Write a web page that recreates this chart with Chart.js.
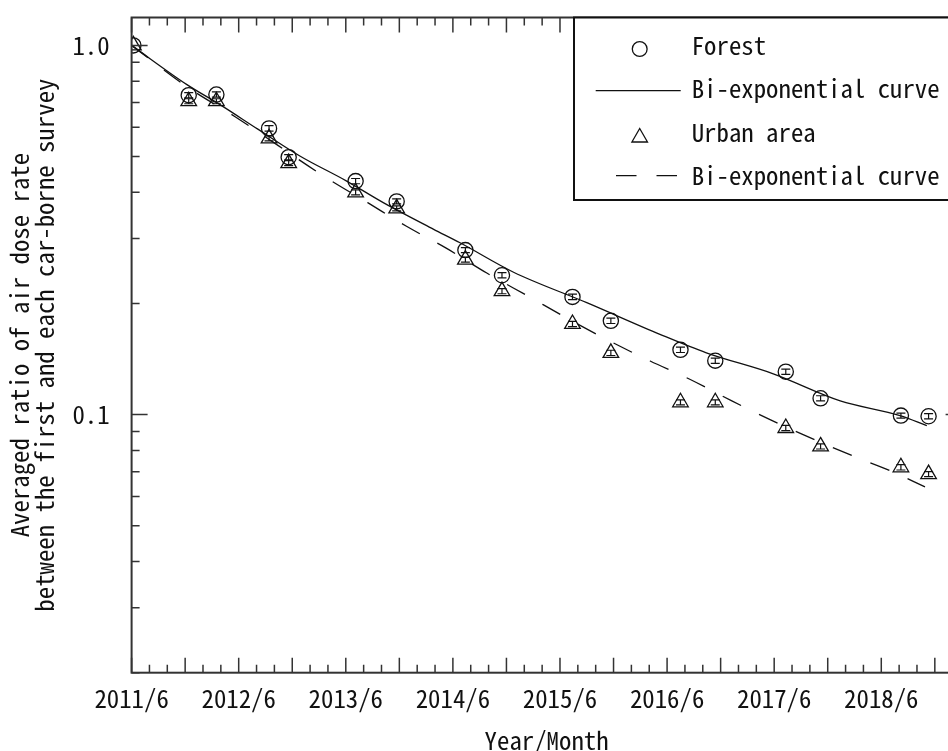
<!DOCTYPE html>
<html>
<head>
<meta charset="utf-8">
<script src="https://cdn.jsdelivr.net/npm/chart.js@4/dist/chart.umd.min.js"></script>
<style>
  html, body { margin: 0; padding: 0; background: #fff; overflow: hidden; width: 948px; height: 751px; }
  #wrap { position: absolute; left: 0; top: 0; width: 1000px; height: 751px; }
</style>
</head>
<body>
<div id="wrap"><canvas id="c" width="1000" height="751"></canvas></div>
<script>
// Survey timing, in months after 2011/6
const surveyMonths = [0.2, 6.4, 9.5, 15.4, 17.6, 25.1, 29.7, 37.4, 41.5, 49.4, 53.7, 61.5, 65.4, 73.3, 77.2, 86.2, 89.3];

// Averaged ratio to the first survey, with its error
const forestRatio = [1.0, 0.733, 0.736, 0.596, 0.498, 0.429, 0.378, 0.279, 0.2385, 0.2084, 0.1795, 0.1498, 0.140, 0.1307, 0.1107, 0.0994, 0.099];
const forestErr   = [0, 0.012, 0.012, 0.010, 0.008, 0.007, 0.006, 0.0045, 0.004, 0.0035, 0.003, 0.0025, 0.0023, 0.0021, 0.0018, 0.0016, 0.0016];
const urbanRatio  = [1.0, 0.706, 0.706, 0.560, 0.480, 0.400, 0.362, 0.263, 0.216, 0.176, 0.147, 0.108, 0.108, 0.092, 0.082, 0.072, 0.069];
const urbanErr    = [0, 0.011, 0.011, 0.009, 0.0077, 0.0064, 0.0058, 0.0042, 0.0035, 0.0028, 0.0024, 0.0017, 0.0017, 0.0015, 0.0013, 0.0012, 0.0011];

// Fitted bi-exponential curves
const forestFitMonths = [0, 6.2, 9.9, 14.1, 18.9, 24.1, 28.2, 33.8, 36.8, 42.8, 51.0, 59.2, 64.4, 71.9, 79.4, 86.1, 89.1];
const forestFitRatio  = [1.0, 0.783, 0.691, 0.594, 0.501, 0.429, 0.375, 0.318, 0.292, 0.243, 0.201, 0.165, 0.147, 0.129, 0.109, 0.0994, 0.0934];
const urbanFitMonths  = [0, 6.5, 11.6, 21.7, 26.5, 30.8, 35.3, 39.8, 44.4, 48.8, 53.4, 58.1, 62.6, 67.2, 71.6, 76.2, 80.7, 85.3, 88.9];
const urbanFitRatio   = [1.0, 0.764, 0.641, 0.440, 0.3745, 0.3236, 0.2819, 0.2418, 0.2095, 0.1824, 0.159, 0.1397, 0.1245, 0.1091, 0.0968, 0.0862, 0.0775, 0.0700, 0.0637];

// Axis ticks and texts
const xTickMonths = [0, 12, 24, 36, 48, 60, 72, 84];
const xTickLabels = ['2011/6', '2012/6', '2013/6', '2014/6', '2015/6', '2016/6', '2017/6', '2018/6'];
const yTickValues = [0.1, 1.0];
const yTickLabels = ['0.1', '1.0'];
const seriesLabels = ['Forest', 'Bi-exponential curve', 'Urban area', 'Bi-exponential curve'];
const xTitle = 'Year/Month';
const yTitle = ['Averaged ratio of air dose rate', 'between the first and each car-borne survey'];

// Half-width monospaced face; size chosen so one character advances ~12.4px
const FAMILY = '"Noto Sans Mono CJK JP", "DejaVu Sans Mono", monospace';
const probe = document.createElement('canvas').getContext('2d');
probe.font = '100px ' + FAMILY;
const FS = 12.4 / (probe.measureText('0000000000').width / 1000);
const INK = '#111';
const AXIS = '#333';

const pts = (xs, ys) => xs.map((x, i) => ({ x: x, y: ys[i] }));

// keep the plot box fixed: no extra room reserved for edge labels
function fixBox(s, size) {
  if (s.isHorizontal()) s.height = size; else s.width = size;
  s.paddingTop = 0; s.paddingBottom = 0; s.paddingLeft = 0; s.paddingRight = 0;
}

const framePlugin = {
  id: 'frame',
  afterDatasetsDraw(chart) {
    const ctx = chart.ctx, xs = chart.scales.x, ys = chart.scales.y;
    ctx.save();
    ctx.strokeStyle = INK;
    ctx.lineWidth = 1.2;
    chart.data.datasets.forEach(ds => {
      if (!ds.err) return;
      ds.data.forEach((p, i) => {
        const e = ds.err[i];
        if (!e) return;
        const px = xs.getPixelForValue(p.x);
        const y1 = ys.getPixelForValue(p.y + e);
        const y2 = ys.getPixelForValue(p.y - e);
        ctx.beginPath();
        ctx.moveTo(px, y1); ctx.lineTo(px, y2);
        ctx.moveTo(px - 4.5, y1); ctx.lineTo(px + 4.5, y1);
        ctx.moveTo(px - 4.5, y2); ctx.lineTo(px + 4.5, y2);
        ctx.stroke();
      });
    });
    ctx.restore();
  },
  afterDraw(chart) {
    const ctx = chart.ctx, xs = chart.scales.x, ys = chart.scales.y;
    const a = chart.chartArea;
    ctx.save();
    ctx.strokeStyle = AXIS;

    // inward tick marks on all four sides
    ctx.lineWidth = 1.5;
    ctx.beginPath();
    for (let m = 0; m <= xs.max; m += 2) {
      const px = xs.getPixelForValue(m);
      const len = (m % 6 === 0) ? 15 : 8;
      ctx.moveTo(px, a.bottom); ctx.lineTo(px, a.bottom - len);
      ctx.moveTo(px, a.top); ctx.lineTo(px, a.top + len);
    }
    [0.01, 0.1, 1].forEach(d => {
      for (let k = 1; k <= 9; k++) {
        const v = k * d;
        if (v < ys.min - 1e-9 || v > ys.max) continue;
        const py = ys.getPixelForValue(v);
        const len = (k === 1) ? 16 : 8;
        ctx.moveTo(a.left, py); ctx.lineTo(a.left + len, py);
        ctx.moveTo(a.right, py); ctx.lineTo(a.right - len, py);
      }
    });
    ctx.stroke();

    // plot frame
    ctx.lineWidth = 2;
    ctx.strokeRect(a.left, a.top, a.right - a.left, a.bottom - a.top);

    // legend box
    const bx = 574, by = a.top, bw = a.right - bx, bh = 200 - a.top;
    ctx.fillStyle = '#fff';
    ctx.fillRect(bx, by, bw, bh);
    ctx.strokeStyle = INK;
    ctx.lineWidth = 2;
    ctx.strokeRect(bx, by, bw, bh);

    const ds = chart.data.datasets;
    const textX = 691.7;
    const baselines = [55, 98.3, 141.7, 185];
    ctx.fillStyle = INK;
    ctx.font = FS + 'px ' + FAMILY;
    ctx.textAlign = 'left';
    ctx.textBaseline = 'alphabetic';
    ds.forEach((d, i) => ctx.fillText(d.label, textX, baselines[i]));

    ctx.strokeStyle = INK;
    ctx.fillStyle = 'rgba(0,0,0,0)';
    ctx.lineWidth = 1.3;
    Chart.helpers.drawPoint(ctx, { pointStyle: ds[0].pointStyle, radius: 7.4, borderWidth: 1.3 }, 639.7, 49);
    Chart.helpers.drawPoint(ctx, { pointStyle: ds[2].pointStyle, radius: 9, borderWidth: 1.3 }, 639.7, 137.5);

    ctx.lineWidth = 1.3;
    ctx.beginPath();
    ctx.moveTo(595.7, 90.7); ctx.lineTo(680.7, 90.7);
    ctx.stroke();
    ctx.setLineDash(ds[3].borderDash);
    ctx.beginPath();
    ctx.moveTo(616, 175.7); ctx.lineTo(677.3, 175.7);
    ctx.stroke();
    ctx.restore();
  }
};

const tickFont = { family: FAMILY, size: FS, lineHeight: 1.2 };

new Chart(document.getElementById('c'), {
  type: 'scatter',
  data: {
    datasets: [
      {
        label: seriesLabels[0], data: pts(surveyMonths, forestRatio), err: forestErr,
        pointStyle: 'circle', pointRadius: 7.6, pointBorderWidth: 1.3,
        borderColor: INK, backgroundColor: 'rgba(0,0,0,0)', showLine: false
      },
      {
        label: seriesLabels[1], data: pts(forestFitMonths, forestFitRatio),
        showLine: true, pointRadius: 0, borderColor: INK, borderWidth: 1.3,
        cubicInterpolationMode: 'monotone', fill: false
      },
      {
        label: seriesLabels[2], data: pts(surveyMonths, urbanRatio), err: urbanErr,
        pointStyle: 'triangle', pointRadius: 9, pointBorderWidth: 1.3,
        borderColor: INK, backgroundColor: 'rgba(0,0,0,0)', showLine: false
      },
      {
        label: seriesLabels[3], data: pts(urbanFitMonths, urbanFitRatio),
        showLine: true, pointRadius: 0, borderColor: INK, borderWidth: 1.3,
        borderDash: [20.5, 20], cubicInterpolationMode: 'monotone', fill: false
      }
    ]
  },
  options: {
    responsive: false,
    animation: false,
    devicePixelRatio: 1,
    layout: { padding: { left: 0, right: 38.4, top: 17.5, bottom: 0 } },
    plugins: { legend: { display: false }, tooltip: { enabled: false } },
    scales: {
      x: {
        type: 'linear', min: 0, max: 93,
        grid: { display: false, drawTicks: false },
        border: { display: false },
        afterFit(s) { fixBox(s, 78.3); },
        afterBuildTicks(s) { s.ticks = xTickMonths.map(v => ({ value: v })); },
        ticks: {
          callback: (v, i) => xTickLabels[i],
          font: tickFont, color: INK, padding: 11, maxRotation: 0, autoSkip: false
        },
        title: {
          display: true, text: xTitle, color: INK,
          font: { family: FAMILY, size: FS, lineHeight: 1 },
          padding: { top: 0, bottom: -1.5 }
        }
      },
      y: {
        type: 'logarithmic', min: 0.02, max: 1.19,
        grid: { display: false, drawTicks: false },
        border: { display: false },
        afterFit(s) { fixBox(s, 131.6); },
        afterBuildTicks(s) { s.ticks = yTickValues.map(v => ({ value: v })); },
        ticks: {
          callback: (v, i) => yTickLabels[i],
          font: tickFont, color: INK, padding: 22, autoSkip: false
        },
        title: {
          display: true, text: yTitle, color: INK,
          font: { family: FAMILY, size: FS, lineHeight: 1 },
          padding: { top: 7.5, bottom: 0 }
        }
      }
    }
  },
  plugins: [framePlugin]
});
</script>
</body>
</html>
